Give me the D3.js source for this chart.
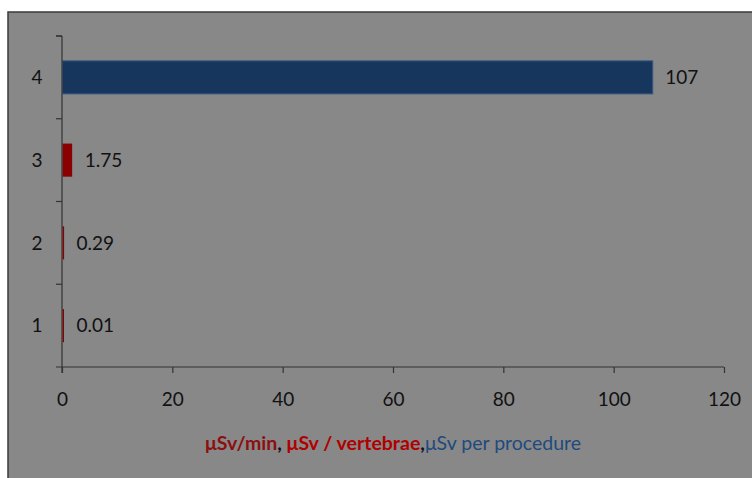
<!DOCTYPE html>
<html><head><meta charset="utf-8">
<script src="https://cdn.jsdelivr.net/npm/d3@7"></script>
<style>body{margin:0;background:#fff}svg{display:block}</style>
</head><body>
<svg id="c" width="752" height="478"></svg>
<script>
const categories = ["1","2","3","4"];
const values = [0.01, 0.29, 1.75, 107];
const labels = ["0.01","0.29","1.75","107"];
const barColors = ["#8b0000","#8b0000","#8b0000","#17365d"];
const xTicks = [0,20,40,60,80,100,120];

const svg = d3.select("#c");
svg.append("rect").attr("x",8).attr("y",12).attr("width",760).attr("height",480)
  .attr("fill","#888888").attr("stroke","#3a3a3a").attr("stroke-width",1.5);

const x = d3.scaleLinear().domain([0,120]).range([62,724]);
const y = d3.scaleBand().domain(categories.slice().reverse()).range([36,367]).paddingInner(0.6).paddingOuter(0.3);
const yb = d3.scaleBand().domain(categories.slice().reverse()).range([36,367]);

const font = "Lato, 'Open Sans', sans-serif";
const fs = 19;

// bars
svg.append("g").selectAll("rect").data(categories).join("rect")
  .attr("x", x(0)+0.5)
  .attr("y", d=>y(d))
  .attr("width", (d,i)=>Math.max(1.5, x(values[i])-x(0)))
  .attr("height", y.bandwidth())
  .attr("fill", (d,i)=>barColors[i])
  .attr("stroke", (d,i)=> i===3 ? "#3b5b85" : "none").attr("stroke-width",1);

// value labels
svg.append("g").selectAll("text").data(categories).join("text")
  .attr("x",(d,i)=>Math.max(x(values[i]), x(0)+1.5)+13)
  .attr("y",d=>y(d)+y.bandwidth()/2)
  .attr("dy","0.35em")
  .attr("font-family",font).attr("font-size",fs).attr("fill","#111")
  .text((d,i)=>labels[i]);

// y axis
const yAxis = svg.append("g").attr("transform",`translate(${x(0)},0)`);
yAxis.append("line").attr("x1",0).attr("x2",0).attr("y1",36).attr("y2",373).attr("stroke","#333").attr("stroke-width",1.2);
const yTickPos = categories.map(c=>yb(c)).concat([36]);
yAxis.selectAll("line.t").data(yTickPos).join("line").attr("class","t")
  .attr("x1",-6).attr("x2",0).attr("y1",d=>d).attr("y2",d=>d).attr("stroke","#333").attr("stroke-width",1.2);
yAxis.selectAll("text").data(categories).join("text")
  .attr("x",-25).attr("y",d=>yb(d)+yb.bandwidth()/2).attr("dy","0.35em")
  .attr("text-anchor","middle")
  .attr("font-family",font).attr("font-size",fs).attr("fill","#111").text(d=>d);

// x axis
const xAxis = svg.append("g").attr("transform","translate(0,367)")
  .call(d3.axisBottom(x).tickValues(xTicks).tickSize(6).tickPadding(20).tickFormat(d3.format("d")));
xAxis.select(".domain").attr("stroke","#333").attr("stroke-width",1.2).attr("d",`M${x(0)-6},0H${x(120)}`);
xAxis.selectAll(".tick line").attr("stroke","#333").attr("stroke-width",1.2);
xAxis.selectAll("text").attr("font-family",font).attr("font-size",fs).attr("fill","#111");

// title
const t = svg.append("text").attr("x",393).attr("y",450).attr("text-anchor","middle")
  .attr("font-family",font).attr("font-size",19.5).attr("font-weight","bold");
t.append("tspan").attr("fill","#8b1010").text("μSv/min");
t.append("tspan").attr("fill","#111").text(", ");
t.append("tspan").attr("fill","#b00000").text("μSv / vertebrae");
t.append("tspan").attr("fill","#111").text(",");
t.append("tspan").attr("fill","#1f4a7d").attr("font-weight","normal").text("μSv per procedure");
</script>
</body></html>
